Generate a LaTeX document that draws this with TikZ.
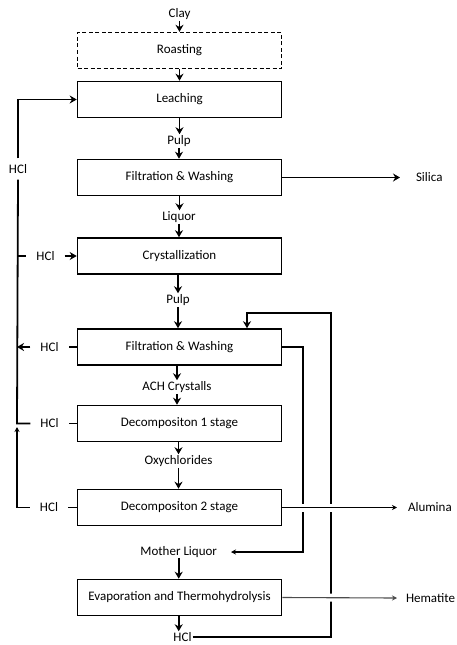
\documentclass[tikz,border=0pt]{standalone}
\usepackage{fontspec}
\setmainfont{Carlito}
\usetikzlibrary{arrows.meta}
\begin{document}
\begin{tikzpicture}[x=1pt,y=-1pt,
 every node/.style={font=\fontsize{13}{15}\selectfont},
 box/.style={draw, line width=1.6pt, minimum width=204pt, minimum height=36pt, inner sep=0pt},
 lbl/.style={inner sep=1pt},
 hcl/.style={inner sep=0pt, outer xsep=10pt, outer ysep=0pt},
 main/.style={line width=1.8pt, -{Stealth[length=7pt,width=8pt]}},
 thk/.style={line width=1.8pt},
 thnarr/.style={line width=1.1pt, -{Stealth[length=5pt,width=5pt]}},
 gap/.style={preaction={draw=white, line width=8pt, -}}]
\useasboundingbox (0,0) rectangle (456,645);

% process boxes
\node[box, dash pattern=on 4pt off 2.5pt, line width=1.4pt] (roast) at (179.5,50.5) {Roasting};
\node[box] (leach) at (179.5,99.5) {Leaching};
\node[box] (fw1) at (179.5,177.5) {Filtration \& Washing};
\node[box] (cryst) at (179.5,256) {Crystallization};
\node[box] (fw2) at (179.5,347) {Filtration \& Washing};
\node[box] (dec1) at (179.5,423.5) {Decompositon 1 stage};
\node[box] (dec2) at (179.5,507.5) {Decompositon 2 stage};
\node[box] (evap) at (179.5,597.5) {Evaporation and Thermohydrolysis};

% stream labels
\node[lbl] (clay) at (179.5,14) {Clay};
\node[lbl] (pulp1) at (179,141) {Pulp};
\node[lbl] (liquor) at (179,217) {Liquor};
\node[lbl] (pulp2) at (178,300) {Pulp};
\node[lbl] (ach) at (177,387) {ACH Crystalls};
\node[lbl] (oxy) at (178.5,461) {Oxychlorides};
\node[anchor=east, inner sep=0pt, outer xsep=14pt] (mother) at (231,552) {Mother Liquor};
\node[lbl] (hclb) at (182.5,637) {HCl};
\node[anchor=west, inner sep=0pt, outer xsep=16pt] (silica) at (400,177.5) {Silica};
\node[anchor=west, inner sep=0pt, outer xsep=11pt] (alumina) at (397,507.5) {Alumina};
\node[anchor=west, inner sep=0pt, outer xsep=9pt] (hematite) at (397,598) {Hematite};

% HCl labels on the left
\node[hcl, outer ysep=6pt] (hcl1) at (18,169) {HCl};
\node[hcl] (hcl2) at (45.5,256) {HCl};
\node[hcl] (hcl3) at (49.5,347) {HCl};
\node[hcl] (hcl4) at (49.5,423.5) {HCl};
\node[hcl] (hcl5) at (49,507.5) {HCl};

% coordinates
\coordinate (sp2) at (17,256);
\coordinate (sp3) at (17,347);
\coordinate (sp4) at (17,423.5);
\coordinate (tip5) at (17,427);
\coordinate (r1) at (303,347);
\coordinate (r2) at (303,552);
\coordinate (q1) at (331,637);
\coordinate (q2) at (331,313);
\coordinate (q3) at (247,313);

% main vertical flow
\draw[main] (clay.south) -- (roast.north);
\draw[main] (roast.south) -- (leach.north);
\draw[main] (leach.south) -- (leach.south |- pulp1.north);
\draw[main] (pulp1.south) -- (pulp1.south |- fw1.north);
\draw[main] (fw1.south) -- (fw1.south |- liquor.north);
\draw[main] (liquor.south) -- (liquor.south |- cryst.north);
\draw[main] (pulp2.south |- cryst.south) -- (pulp2.north);
\draw[main] (pulp2.south) -- (pulp2.south |- fw2.north);
\draw[main] (ach.south |- fw2.south) -- (ach.north);
\draw[main] (ach.south) -- (ach.south |- dec1.north);
\draw[main] (oxy.south |- dec1.south) -- (oxy.north);
\draw[main] (oxy.south) -- (oxy.south |- dec2.north);
\draw[main] (mother.south) -- (mother.south |- evap.north);
\draw[main] (evap.south -| mother.south) -- (hclb.north -| mother.south);

% left HCl collector
\draw[thk] (hcl4.west) -- (sp4) -- (hcl1.south);
\draw[main] (hcl1.north) |- (leach.west);
\draw[thk] (sp2) -- (hcl2.west);
\draw[main] (hcl2.east) -- (cryst.west);
\draw[thk] (fw2.west) -- (hcl3.east);
\draw[main] (hcl3.west) -- (sp3);
\draw[thk] (dec1.west) -- (hcl4.east);
\draw[thk] (dec2.west) -- (hcl5.east);
\draw[thnarr] (hcl5.west) -| (tip5);

% right side streams
\draw[main] (fw1.east) -- (silica.west);
\draw[thnarr, line width=1.3pt] (fw2.east) -- (r1) -- (r2) -- (r2 -| mother.east);
\draw[main] (hclb.east) -- (q1) -- (q2) -- (q3) -- (q3 |- fw2.north);
\draw[thnarr, gap] (dec2.east) -- (alumina.west);
\draw[thnarr, gap, draw=black!70] (evap.east) -- (hematite.west);
\end{tikzpicture}
\end{document}
